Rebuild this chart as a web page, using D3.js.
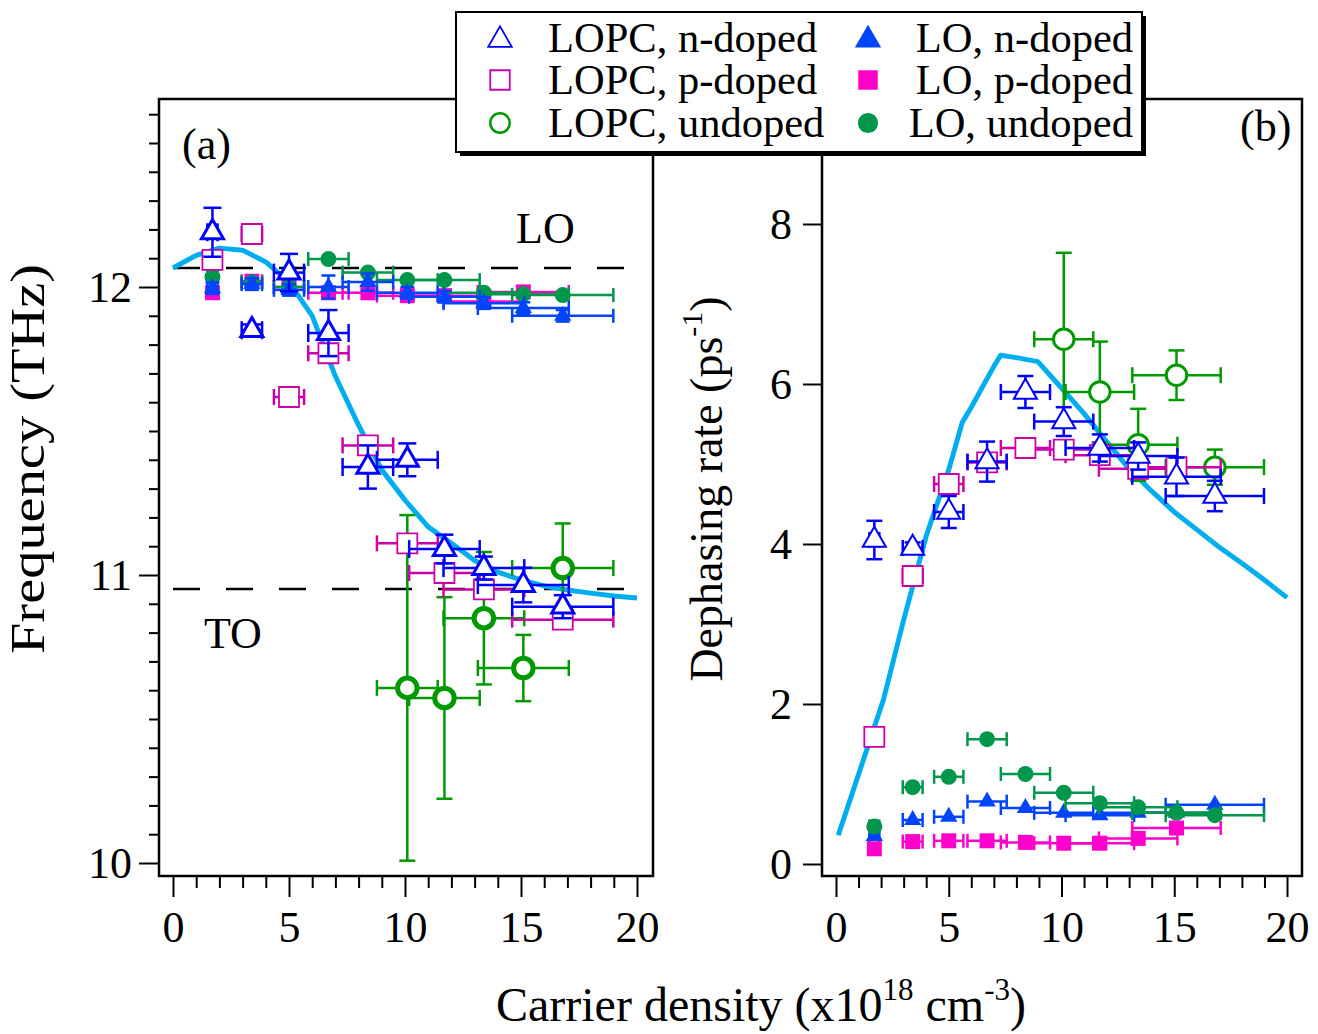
<!DOCTYPE html>
<html>
<head>
<meta charset="utf-8">
<script src="https://cdn.jsdelivr.net/npm/d3@7"></script>
<style>
  html, body { margin: 0; padding: 0; background: #fff; }
  svg text { font-family: "Liberation Serif", "Times New Roman", serif; fill: #000; }
</style>
</head>
<body>
<svg id="chart" width="1318" height="1034"></svg>
<script>
// ---- carrier densities (x10^18 cm^-3) and their uncertainties ----
const density     = [1.7, 3.4, 5.0, 6.7, 8.4, 10.1, 11.7, 13.4, 15.1, 16.8];
const densityErr  = [0.22, 0.44, 0.65, 0.87, 1.09, 1.31, 1.52, 1.74, 1.96, 2.18];
const densityP    = [1.7, 3.4, 5.0, 6.7, 8.4, 10.1, 11.7, 13.4, 16.8];
const densityPErr = [0.22, 0.44, 0.65, 0.87, 1.09, 1.31, 1.52, 1.74, 2.18];
const densityLoP    = [1.7, 3.4, 5.0, 6.7, 8.4, 10.1, 11.7, 13.4, 15.1];
const densityLoPErr = [0.22, 0.44, 0.65, 0.87, 1.09, 1.31, 1.52, 1.74, 1.96];
const densityU    = [10.1, 11.7, 13.4, 15.1, 16.8];
const densityUErr = [1.31, 1.52, 1.74, 1.96, 2.18];

// ---- (a) frequencies (THz) ----
const freqLopcN    = [12.19, 11.85, 12.05, 11.84, 11.375, 11.40, 11.09, 11.024, 10.965, 10.89];
const freqLopcNErr = [0.085, 0.02, 0.065, 0.08, 0.075, 0.057, 0.05, 0.04, 0.06, 0.04];
const freqLopcP    = [12.094, 12.184, 11.618, 11.77, 11.45, 11.11, 11.007, 10.95, 10.845];
const freqLopcU    = [10.608, 10.573, 10.85, 10.677, 11.024];
const freqLopcUErr = [0.6, 0.35, 0.23, 0.115, 0.155];
const freqLoN    = [11.996, 12.01, 11.99, 12.0, 12.017, 11.98, 11.966, 11.944, 11.927, 11.90];
const freqLoNErr = [0.02, 0.02, 0.02, 0.04, 0.03, 0.02, 0.02, 0.02, 0.02, 0.02];
const freqLoP    = [11.98, 12.02, 12.0, 11.98, 11.98, 11.97, 11.97, 11.95, 11.983];
const freqLoU    = [12.035, 12.017, 12.0, 12.097, 12.05, 12.024, 12.024, 11.98, 11.975, 11.972];

// ---- (b) dephasing rates (ps^-1) ----
const rateLopcN    = [4.05, 3.95, 4.4, 5.03, 5.9, 5.53, 5.2, 5.1, 4.84, 4.6];
const rateLopcNErr = [0.24, 0.07, 0.2, 0.25, 0.2, 0.18, 0.17, 0.17, 0.24, 0.19];
const rateLopcP    = [1.59, 3.6, 4.75, 5.02, 5.2, 5.18, 5.11, 4.94, 4.96];
const rateLopcU    = [6.56, 5.9, 5.24, 6.11, 4.96];
const rateLopcUErr = [1.08, 0.63, 0.45, 0.31, 0.22];
const rateLoN = [0.35, 0.55, 0.59, 0.78, 0.70, 0.64, 0.61, 0.64, 0.64, 0.74];
const rateLoP = [0.19, 0.28, 0.29, 0.29, 0.27, 0.26, 0.26, 0.32, 0.45];
const rateLoU = [0.47, 0.96, 1.09, 1.56, 1.125, 0.89, 0.76, 0.71, 0.64, 0.61];

// ---- model curves ----
const modelDensityA = [0, 1, 2, 3, 4, 5, 6, 7, 8, 9, 10, 11, 12, 13, 14, 15, 16, 17, 18, 19, 20];
const modelFreq = [12.066, 12.11, 12.135, 12.128, 12.087, 12.017, 11.90, 11.69, 11.52, 11.365, 11.26,
                   11.167, 11.11, 11.05, 11.01, 10.983, 10.962, 10.948, 10.937, 10.927, 10.92];
const modelDensityB = [0.1, 2.1, 3, 4, 5, 5.6, 6, 7, 7.3, 8, 8.95, 10, 11, 12, 13, 14, 15, 16, 17, 18, 19, 20];
const modelRate = [0.36, 2.05, 3.05, 4.1, 4.93, 5.52, 5.71, 6.22, 6.36, 6.33, 6.28, 5.95, 5.63, 5.28,
                   4.94, 4.66, 4.4, 4.18, 3.96, 3.76, 3.55, 3.33];

// bare phonon frequencies (THz)
const phononLO = 12.066;
const phononTO = 10.951;

// axis ticks
const xMajorTicks = [0, 5, 10, 15, 20];
const freqMajorTicks = [10, 11, 12];
const rateMajorTicks = [0, 2, 4, 6, 8];

const legendLabels = ["LOPC, n-doped", "LOPC, p-doped", "LOPC, undoped",
                      "LO, n-doped", "LO, p-doped", "LO, undoped"];

// ---------------------------------------------------------------
const svg = d3.select("#chart");
svg.append("rect").attr("width", 1318).attr("height", 1034).attr("fill", "#fff");

const FONT = 44;

const panelA = {
  left: 159, right: 653, top: 99, bottom: 876,
  x: d3.scaleLinear().domain([0, 20]).range([173, 637]),
  y: d3.scaleLinear().domain([10, 12]).range([863, 287])
};
const panelB = {
  left: 822, right: 1302, top: 99, bottom: 876,
  x: d3.scaleLinear().domain([0, 20]).range([836, 1287]),
  y: d3.scaleLinear().domain([0, 8]).range([864, 224])
};

const C = {
  blue: "#0000ff", blueFill: "#0044ff",
  mag: "#cc00aa", pink: "#ff00cc",
  green: "#009900", greenFill: "#00964b",
  cyan: "#00aeef"
};

function styleAxis(g, fontSize) {
  g.select(".domain").remove();
  g.selectAll(".tick line").attr("stroke", "#000").attr("stroke-width", 2);
  g.selectAll(".tick text")
    .attr("font-family", '"Liberation Serif", "Times New Roman", serif')
    .attr("font-size", fontSize).attr("fill", "#000");
}

function drawXAxis(p) {
  const gMinor = svg.append("g").attr("transform", `translate(0,${p.bottom})`)
    .call(d3.axisBottom(p.x).tickValues(d3.range(0, 21).filter(v => v % 5 !== 0))
      .tickSize(12).tickSizeOuter(0).tickFormat(""));
  styleAxis(gMinor, FONT);
  const gMajor = svg.append("g").attr("transform", `translate(0,${p.bottom})`)
    .call(d3.axisBottom(p.x).tickValues(xMajorTicks).tickSize(21).tickSizeOuter(0)
      .tickPadding(14).tickFormat(d3.format("d")));
  styleAxis(gMajor, FONT);
}

function drawFrame(p) {
  svg.append("rect")
    .attr("x", p.left).attr("y", p.top)
    .attr("width", p.right - p.left).attr("height", p.bottom - p.top)
    .attr("fill", "none").attr("stroke", "#000").attr("stroke-width", 2.5);
}

function symbolPath(type, size) {
  return d3.symbol().type(type).size(size)();
}

// error bars with caps, then markers on top
function drawSeries(p, xs, ys, xerr, yerr, st) {
  const g = svg.append("g");
  const cap = st.cap || 16;
  const ec = st.errColor;
  xs.forEach((xv, i) => {
    const yv = ys[i];
    const cx = p.x(xv), cy = p.y(yv);
    if (xerr && xerr[i]) {
      const x0 = p.x(xv - xerr[i]), x1 = p.x(xv + xerr[i]);
      g.append("line").attr("x1", x0).attr("x2", x1).attr("y1", cy).attr("y2", cy)
        .attr("stroke", ec).attr("stroke-width", 2.5);
      [x0, x1].forEach(xx => g.append("line").attr("x1", xx).attr("x2", xx)
        .attr("y1", cy - cap / 2).attr("y2", cy + cap / 2)
        .attr("stroke", ec).attr("stroke-width", 2.5));
    }
    if (yerr && yerr[i]) {
      const y0 = p.y(yv - yerr[i]), y1 = p.y(yv + yerr[i]);
      g.append("line").attr("x1", cx).attr("x2", cx).attr("y1", y0).attr("y2", y1)
        .attr("stroke", ec).attr("stroke-width", 2.5);
      [y0, y1].forEach(yy => g.append("line").attr("y1", yy).attr("y2", yy)
        .attr("x1", cx - cap / 2).attr("x2", cx + cap / 2)
        .attr("stroke", ec).attr("stroke-width", 2.5));
    }
  });
  xs.forEach((xv, i) => {
    g.append("path")
      .attr("d", symbolPath(st.type, st.size))
      .attr("transform", `translate(${p.x(xv)},${p.y(ys[i])})`)
      .attr("fill", st.fill).attr("stroke", st.stroke || "none")
      .attr("stroke-width", st.sw || 0);
  });
}

function drawModel(p, xs, ys) {
  svg.append("path")
    .datum(xs.map((v, i) => [v, ys[i]]))
    .attr("d", d3.line().x(d => p.x(d[0])).y(d => p.y(d[1])))
    .attr("fill", "none").attr("stroke", C.cyan).attr("stroke-width", 5)
    .attr("stroke-linejoin", "round");
}

function hline(p, val, dash) {
  svg.append("line")
    .attr("x1", p.x(0)).attr("x2", p.x(20))
    .attr("y1", p.y(val)).attr("y2", p.y(val))
    .attr("stroke", "#000").attr("stroke-width", 2.5)
    .attr("stroke-dasharray", dash);
}

// ---------------- panel (a) ----------------
drawXAxis(panelA);
{
  const gMinor = svg.append("g").attr("transform", `translate(${panelA.left},0)`)
    .call(d3.axisLeft(panelA.y)
      .tickValues(d3.range(100, 127).filter(v => v % 10 !== 0).map(v => v / 10))
      .tickSize(10).tickSizeOuter(0).tickFormat(""));
  styleAxis(gMinor, FONT);
  const gMajor = svg.append("g").attr("transform", `translate(${panelA.left},0)`)
    .call(d3.axisLeft(panelA.y).tickValues(freqMajorTicks).tickSize(20).tickSizeOuter(0)
      .tickPadding(7).tickFormat(d3.format("d")));
  styleAxis(gMajor, FONT);
}
hline(panelA, phononLO, "27,26");
hline(panelA, phononTO, "27,26");
drawModel(panelA, modelDensityA, modelFreq);

const sLoP  = {type: d3.symbolSquare, size: 225, fill: C.pink, errColor: C.pink, cap: 14};
const sLoU  = {type: d3.symbolCircle, size: 200, fill: C.greenFill, errColor: C.greenFill, cap: 14};
const sLoN  = {type: d3.symbolTriangle, size: 130, fill: C.blueFill, errColor: C.blueFill, cap: 14};

drawSeries(panelA, densityLoP, freqLoP, densityLoPErr, null, sLoP);
drawSeries(panelA, density, freqLoU, densityErr, null, sLoU);
drawSeries(panelA, density, freqLoN, densityErr, freqLoNErr, sLoN);

drawSeries(panelA, densityU, freqLopcU, densityUErr, freqLopcUErr,
  {type: d3.symbolCircle, size: 300, fill: "#fff", stroke: C.green, sw: 5, errColor: C.green});
drawSeries(panelA, densityP, freqLopcP, densityPErr, null,
  {type: d3.symbolSquare, size: 400, fill: "#fff", stroke: C.mag, sw: 1.8, errColor: C.mag});
drawSeries(panelA, density, freqLopcN, densityErr, freqLopcNErr,
  {type: d3.symbolTriangle, size: 210, fill: "#fff", stroke: C.blue, sw: 3, errColor: C.blue, cap: 18});
drawFrame(panelA);

svg.append("text").attr("x", 182).attr("y", 159).attr("font-size", FONT).text("(a)");
svg.append("text").attr("x", 516).attr("y", 243).attr("font-size", FONT).text("LO");
svg.append("text").attr("x", 204).attr("y", 648).attr("font-size", FONT).text("TO");
svg.append("text")
  .attr("transform", "translate(44,459) rotate(-90)")
  .attr("text-anchor", "middle").attr("font-size", 48)
  .attr("textLength", 390).attr("lengthAdjust", "spacingAndGlyphs")
  .text("Frequency (THz)");

// ---------------- panel (b) ----------------
drawXAxis(panelB);
{
  const gMajor = svg.append("g").attr("transform", `translate(${panelB.left},0)`)
    .call(d3.axisLeft(panelB.y).tickValues(rateMajorTicks).tickSize(19).tickSizeOuter(0)
      .tickPadding(11).tickFormat(d3.format("d")));
  styleAxis(gMajor, FONT);
}
drawModel(panelB, modelDensityB, modelRate);

drawSeries(panelB, density, rateLoN, densityErr, null, sLoN);
drawSeries(panelB, density, rateLoU, densityErr, null, sLoU);
drawSeries(panelB, densityLoP, rateLoP, densityLoPErr, null, sLoP);

drawSeries(panelB, densityU, rateLopcU, densityUErr, rateLopcUErr,
  {type: d3.symbolCircle, size: 330, fill: "#fff", stroke: C.green, sw: 3, errColor: C.green});
drawSeries(panelB, densityLoP, rateLopcP, densityLoPErr, null,
  {type: d3.symbolSquare, size: 400, fill: "#fff", stroke: C.mag, sw: 1.8, errColor: C.mag});
drawSeries(panelB, density, rateLopcN, densityErr, rateLopcNErr,
  {type: d3.symbolTriangle, size: 230, fill: "#fff", stroke: C.blue, sw: 2, errColor: C.blue});
drawFrame(panelB);

svg.append("text").attr("x", 1240).attr("y", 141).attr("font-size", FONT).text("(b)");
{
  const t = svg.append("text")
    .attr("transform", "translate(722,489) rotate(-90)")
    .attr("text-anchor", "middle").attr("font-size", 46);
  t.append("tspan").text("Dephasing rate (ps");
  t.append("tspan").attr("font-size", 30).attr("dy", -20).text("-1");
  t.append("tspan").attr("dy", 20).text(")");
}

// ---------------- shared x title ----------------
{
  const t = svg.append("text").attr("x", 761).attr("y", 1021)
    .attr("text-anchor", "middle").attr("font-size", 48);
  t.append("tspan").text("Carrier density (x10");
  t.append("tspan").attr("font-size", 31).attr("dy", -21).text("18");
  t.append("tspan").attr("dy", 21).text(" cm");
  t.append("tspan").attr("font-size", 31).attr("dy", -21).text("-3");
  t.append("tspan").attr("dy", 21).text(")");
}

// ---------------- legend ----------------
{
  const L = {x: 456, y: 12, w: 686, h: 140};
  const g = svg.append("g");
  g.append("rect").attr("x", L.x + 4).attr("y", L.y + 4).attr("width", L.w).attr("height", L.h)
    .attr("fill", "#000");
  g.append("rect").attr("x", L.x).attr("y", L.y).attr("width", L.w).attr("height", L.h)
    .attr("fill", "#fff").attr("stroke", "#000").attr("stroke-width", 2);
  const rows = [38, 80, 123];
  const legSyms = [
    {type: d3.symbolTriangle, size: 240, fill: "#fff", stroke: C.blue, sw: 1.8},
    {type: d3.symbolSquare, size: 380, fill: "#fff", stroke: C.mag, sw: 1.8},
    {type: d3.symbolCircle, size: 300, fill: "#fff", stroke: C.green, sw: 2.5},
    {type: d3.symbolTriangle, size: 300, fill: C.blueFill},
    {type: d3.symbolSquare, size: 380, fill: C.pink},
    {type: d3.symbolCircle, size: 320, fill: C.greenFill}
  ];
  legendLabels.forEach((lab, i) => {
    const col = i < 3 ? 0 : 1;
    const ry = rows[i % 3];
    const s = legSyms[i];
    g.append("path").attr("d", symbolPath(s.type, s.size))
      .attr("transform", `translate(${col ? 868 : 500},${ry + (s.type === d3.symbolTriangle ? 2 : 0)})`)
      .attr("fill", s.fill).attr("stroke", s.stroke || "none").attr("stroke-width", s.sw || 0);
    g.append("text")
      .attr("x", col ? 1133 : 548).attr("y", ry + 14)
      .attr("text-anchor", col ? "end" : "start")
      .attr("font-size", 42.5).text(lab);
  });
}
</script>
</body>
</html>
